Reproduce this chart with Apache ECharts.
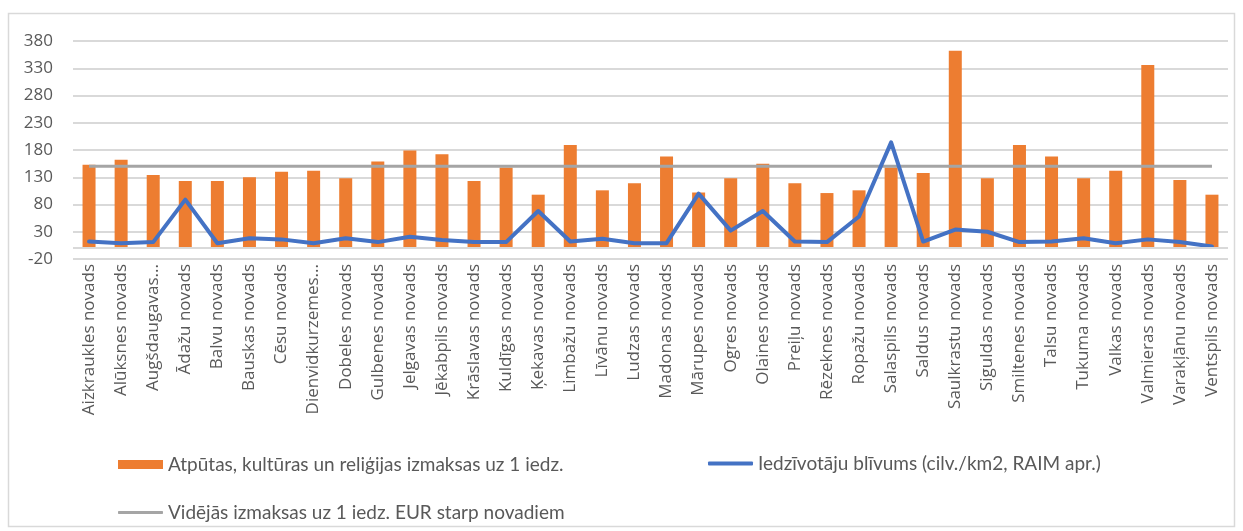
<!DOCTYPE html>
<html>
<head>
<meta charset="utf-8">
<script src="https://cdn.jsdelivr.net/npm/echarts@6/dist/echarts.min.js"></script>
<style>
  html, body { margin: 0; padding: 0; background: #ffffff; }
  #chart { width: 1243px; height: 531px; }
</style>
</head>
<body>
<div id="chart"></div>
<script>
// Novadi (as shown on the category axis)
const categories = [
  'Aizkraukles novads', 'Alūksnes novads', 'Augšdaugavas...', 'Ādažu novads',
  'Balvu novads', 'Bauskas novads', 'Cēsu novads', 'Dienvidkurzemes...',
  'Dobeles novads', 'Gulbenes novads', 'Jelgavas novads', 'Jēkabpils novads',
  'Krāslavas novads', 'Kuldīgas novads', 'Ķekavas novads', 'Limbažu novads',
  'Līvānu novads', 'Ludzas novads', 'Madonas novads', 'Mārupes novads',
  'Ogres novads', 'Olaines novads', 'Preiļu novads', 'Rēzeknes novads',
  'Ropažu novads', 'Salaspils novads', 'Saldus novads', 'Saulkrastu novads',
  'Siguldas novads', 'Smiltenes novads', 'Talsu novads', 'Tukuma novads',
  'Valkas novads', 'Valmieras novads', 'Varakļānu novads', 'Ventspils novads'
];

// Atpūtas, kultūras un reliģijas izmaksas uz 1 iedz. (EUR)
const costPerResident = [
  153, 162, 134, 123, 123, 130, 140, 142, 128, 159, 179, 172,
  123, 148, 98, 189, 106, 119, 168, 102, 128, 155, 119, 101,
  106, 148, 138, 362, 128, 189, 168, 128, 142, 336, 125, 98
];

// Iedzīvotāju blīvums (cilv./km2)
const populationDensity = [
  12, 9, 11, 89, 9, 18, 16, 9, 18, 11, 21, 15,
  11, 11, 68, 12, 17, 9, 9, 100, 32, 68, 12, 11,
  58, 194, 12, 34, 30, 11, 12, 18, 9, 16, 11, 3
];

// Vidējās izmaksas uz 1 iedz. EUR starp novadiem
const averageCost = [
  150, 150, 150, 150, 150, 150, 150, 150, 150, 150, 150, 150,
  150, 150, 150, 150, 150, 150, 150, 150, 150, 150, 150, 150,
  150, 150, 150, 150, 150, 150, 150, 150, 150, 150, 150, 150
];

// Value axis range and step
const yMin = -20;
const yMax = 380;
const yStep = 50;

const seriesNames = [
  'Atpūtas, kultūras un reliģijas izmaksas uz 1 iedz.',
  'Iedzīvotāju blīvums (cilv./km2, RAIM apr.)',
  'Vidējās izmaksas uz 1 iedz. EUR starp novadiem'
];

const colors = { bar: '#ED7D31', density: '#4472C4', average: '#A5A5A5' };

const textGrey = '#595959';
const gridGrey = '#d9d9d9';
const axisFont = '"Open Sans", "DejaVu Sans", sans-serif';
const legendFont = 'Lato, "Open Sans", sans-serif';

const chart = echarts.init(document.getElementById('chart'), null, { renderer: 'canvas' });

const legendBase = {
  orient: 'horizontal',
  itemWidth: 45,
  padding: 0,
  selectedMode: false,
  textStyle: { color: textGrey, fontFamily: legendFont, fontSize: 19 }
};

chart.setOption({
  backgroundColor: '#ffffff',
  animation: false,
  graphic: [{
    type: 'rect',
    silent: true,
    shape: { x: 8.5, y: 13.5, width: 1226, height: 513 },
    style: { fill: 'none', stroke: gridGrey, lineWidth: 1.5 }
  }],
  grid: { left: 73, right: 15, top: 41, height: 218, containLabel: false },
  legend: [
    Object.assign({}, legendBase, {
      left: 118, top: 455, itemHeight: 9,
      data: [{ name: seriesNames[0], icon: 'rect' }]
    }),
    Object.assign({}, legendBase, {
      left: 708, top: 454, itemHeight: 4,
      data: [{ name: seriesNames[1], icon: 'roundRect' }]
    }),
    Object.assign({}, legendBase, {
      left: 118, top: 503, itemHeight: 3,
      data: [{ name: seriesNames[2], icon: 'roundRect' }]
    })
  ],
  xAxis: {
    type: 'category',
    data: categories,
    boundaryGap: true,
    axisLine: { show: false, onZero: false },
    axisTick: { show: false },
    axisLabel: {
      rotate: 90,
      interval: 0,
      margin: 5,
      color: textGrey,
      fontFamily: axisFont,
      fontSize: 17
    }
  },
  yAxis: {
    type: 'value',
    min: yMin,
    max: yMax,
    interval: yStep,
    axisLine: { show: false },
    axisTick: { show: false },
    axisLabel: {
      margin: 20,
      color: textGrey,
      fontFamily: axisFont,
      fontSize: 17
    },
    splitLine: { lineStyle: { color: gridGrey, width: 2 } }
  },
  series: [
    {
      name: seriesNames[0],
      type: 'bar',
      data: costPerResident,
      barWidth: 13,
      itemStyle: { color: colors.bar },
      z: 1,
      markLine: {
        silent: true,
        symbol: 'none',
        label: { show: false },
        lineStyle: { color: gridGrey, width: 2, type: 'solid' },
        data: [{ yAxis: 0 }]
      }
    },
    {
      name: seriesNames[1],
      type: 'line',
      data: populationDensity,
      symbol: 'none',
      smooth: false,
      lineStyle: { color: colors.density, width: 4, cap: 'round', join: 'round' },
      itemStyle: { color: colors.density },
      z: 4
    },
    {
      name: seriesNames[2],
      type: 'line',
      data: averageCost,
      symbol: 'none',
      lineStyle: { color: colors.average, width: 3 },
      itemStyle: { color: colors.average },
      z: 3
    }
  ]
});
</script>
</body>
</html>
